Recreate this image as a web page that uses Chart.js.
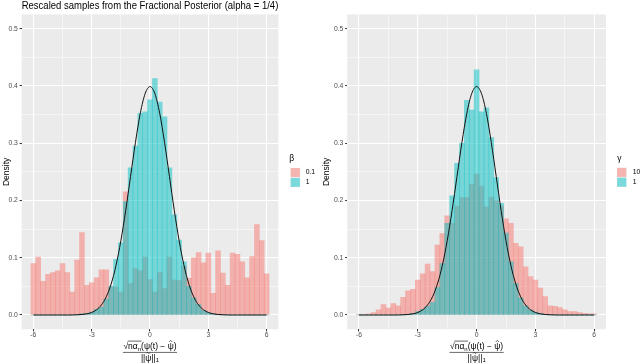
<!DOCTYPE html>
<html><head><meta charset="utf-8">
<script src="https://cdn.jsdelivr.net/npm/chart.js@4.4.0/dist/chart.umd.min.js"></script>
<style>
html,body{margin:0;padding:0;background:#fff;overflow:hidden}
#wrap{position:relative;width:640px;height:363px}
canvas{position:absolute;top:0}
#c1{left:0}#c2{left:320px}
</style></head>
<body><div id="wrap"><canvas id="c1" width="320" height="363"></canvas><canvas id="c2" width="320" height="363"></canvas></div>
<script>
// ---- data ----
const binCenters = [-6,-5.75,-5.5,-5.25,-5,-4.75,-4.5,-4.25,-4,-3.75,-3.5,-3.25,-3,-2.75,-2.5,-2.25,-2,-1.75,-1.5,-1.25,-1,-0.75,-0.5,-0.25,0,0.25,0.5,0.75,1,1.25,1.5,1.75,2,2.25,2.5,2.75,3,3.25,3.5,3.75,4,4.25,4.5,4.75,5,5.25,5.5,5.75,6];
// left panel, beta = 0.1
const betaPoint1 = [0.090,0.101,0.059,0.071,0.074,0.077,0.090,0.074,0.040,0.096,0.144,0.052,0.056,0.065,0.079,0.079,
  0.049,0.049,0.040,0.215,0.055,0.081,0.077,0.101,0.062,0.040,0.074,0.046,0.101,0.061,0.060,0.085,
  0.064,0.100,0.109,0.091,0.108,0.038,0.112,0.073,0.052,0.108,0.106,0.093,0.065,0.102,0.158,0.130,0.072];
// left panel, beta = 1
const betaOne = [0,0,0,0,0,0,0,0,0,0,
  0.002,0.003,0.005,0.010,0.014,0.028,0.050,0.097,0.126,0.198,0.257,0.295,0.352,0.355,0.376,0.413,0.372,0.346,0.257,0.175,0.131,0.093,0.050,0.030,0.018,0.008,0.004,0.002,0.001,
  0,0,0,0,0,0,0,0,0,0];
// right panel, gamma = 10
const gammaTen = [0.001,0.001,0.002,0.004,0.009,0.018,0.012,0.020,0.016,0.031,0.042,0.045,0.061,0.072,0.089,0.076,0.122,0.142,0.173,
  0.160,0.190,0.205,0.205,0.228,0.246,0.225,0.189,0.206,0.200,0.190,
  0.168,0.160,0.125,0.119,0.084,0.067,0.061,0.047,0.032,0.016,0.015,0.013,0.009,0.006,0.006,0.004,0.003,0.002,0.002];
// right panel, gamma = 1
const gammaOne = [0,0,0,0,0,0,0,0,0,0,
  0.001,0.003,0.006,0.010,0.015,0.022,0.048,0.090,0.160,0.208,0.265,0.300,0.375,0.358,0.428,0.355,0.362,0.310,0.240,0.195,0.143,0.093,0.055,0.030,0.016,0.009,0.005,0.003,0.001,
  0,0,0,0,0,0,0,0,0,0];
// black reference curve
const normalDensity = [0,0,0,0,0,0,0,0,0.0001,0.0004,0.0009,0.0020,0.0044,0.0091,0.0175,0.0317,0.0540,0.0863,0.1295,0.1826,0.2420,0.3011,0.3521,0.3867,
  0.3989,
  0.3867,0.3521,0.3011,0.2420,0.1826,0.1295,0.0863,0.0540,0.0317,0.0175,0.0091,0.0044,0.0020,0.0009,0.0004,0.0001,0,0,0,0,0,0,0,0];
const xTickValues = [-6,-3,0,3,6];
const xTickLabels = ['-6','-3','0','3','6'];
const xMinorValues = [-4.5,-1.5,1.5,4.5];
const yTickValues = [0,0.1,0.2,0.3,0.4,0.5];
const yTickLabels = ['0.0','0.1','0.2','0.3','0.4','0.5'];
const yMinorValues = [0.05,0.15,0.25,0.35,0.45];

const FAM = '"Liberation Sans", Arial, Helvetica, sans-serif';
const PINK = 'rgba(248,118,109,0.5)';
const TEAL = 'rgba(0,191,196,0.5)';

function findIdx(arr, v){ for (let i=0;i<arr.length;i++) if (Math.abs(arr[i]-v)<1e-9) return i; return -1; }

const panelBg = {
  id:'panelBg',
  beforeDraw(chart){
    const a = chart.chartArea, c = chart.ctx;
    c.save(); c.fillStyle = '#EBEBEB'; c.fillRect(a.left, a.top, a.right-a.left, a.bottom-a.top); c.restore();
  }
};

const ggLegend = {
  id:'ggLegend',
  afterDraw(chart, args, o){
    const c = chart.ctx;
    c.save();
    c.textAlign = 'left'; c.textBaseline = 'middle';
    c.fillStyle = '#000'; c.font = '8.5px ' + FAM;
    c.fillText(o.title, o.titleX, o.titleY);
    o.items.forEach((it, i) => {
      const y = o.keyY + i*o.keyH;
      c.fillStyle = '#F2F2F2'; c.fillRect(o.keyX, y, o.keyW, o.keyH);
      c.fillStyle = it.color; c.fillRect(o.keyX+0.4, y+0.4, o.keyW-0.8, o.keyH-0.8);
      c.fillStyle = '#000'; c.font = '6.8px ' + FAM;
      c.fillText(it.label, o.labelX, y + o.keyH/2);
    });
    c.restore();
  }
};

const fracTitle = {
  id:'fracTitle',
  afterDraw(chart){
    const c = chart.ctx, a = chart.chartArea;
    const cx = (a.left + a.right)/2;
    const big = '8.5px ' + FAM, small = '6px ' + FAM;
    const yN = 349, yBar = 352.4, yD = 360.6;
    c.save();
    c.fillStyle = '#000'; c.strokeStyle = '#000';
    c.textAlign = 'left'; c.textBaseline = 'alphabetic';
    const seg = [
      {t:'\u221A', f:big, dy:0},
      {t:'n\u03B1', f:big, dy:0},
      {t:'n', f:small, dy:1.8},
      {t:'(\u03C8(t) \u2212 ', f:big, dy:0},
      {t:'\u03C8', f:big, dy:0},
      {t:')', f:big, dy:0}
    ];
    let W = 0;
    seg.forEach(p => { c.font = p.f; p.w = c.measureText(p.t).width; W += p.w; });
    let x = cx - W/2; const x0 = x;
    seg.forEach(p => { c.font = p.f; c.fillText(p.t, x, yN + p.dy); p.x = x; x += p.w; });
    c.lineWidth = 0.6;
    const rTop = yN - 7.9;
    c.beginPath(); c.moveTo(seg[0].x + seg[0].w - 0.5, rTop); c.lineTo(seg[2].x + seg[2].w + 0.4, rTop); c.stroke();
    const hx = seg[4].x + seg[4].w/2;
    c.beginPath(); c.moveTo(hx-1.6, yN-7.0); c.lineTo(hx, yN-8.6); c.lineTo(hx+1.6, yN-7.0); c.stroke();
    c.beginPath(); c.moveTo(x0-0.5, yBar); c.lineTo(x0+W+0.5, yBar); c.stroke();
    const dseg = [
      {t:'||', f:big, dy:0},
      {t:'\u03C8', f:big, dy:0},
      {t:'||', f:big, dy:0},
      {t:'1', f:small, dy:1.6}
    ];
    let DW = 0;
    dseg.forEach(p => { c.font = p.f; p.w = c.measureText(p.t).width; DW += p.w; });
    x = cx - DW/2;
    dseg.forEach(p => { c.font = p.f; c.fillText(p.t, x, yD + p.dy); p.x = x; x += p.w; });
    const tx = dseg[1].x + dseg[1].w/2, ty = yD - 7.6;
    c.beginPath(); c.moveTo(tx-1.8, ty+0.4); c.bezierCurveTo(tx-1.0, ty-1.0, tx-0.3, ty-0.3, tx, ty);
    c.bezierCurveTo(tx+0.3, ty+0.3, tx+1.0, ty+1.0, tx+1.8, ty-0.4); c.stroke();
    c.restore();
  }
};

function xyData(values){ return binCenters.map((x, i) => ({x: x, y: values[i]})); }

function makeChart(id, cfg){
  const isMajorX = v => findIdx(xTickValues, v) >= 0;
  const isMajorY = v => findIdx(yTickValues, v) >= 0;
  return new Chart(document.getElementById(id), {
    type:'bar',
    data:{ datasets:[
      {type:'line', label:'N(0,1) density', data: xyData(normalDensity), borderColor:'#111', borderWidth:1,
        pointRadius:0, fill:false, cubicInterpolationMode:'monotone', order:0},
      {label: cfg.labels[1], data: xyData(cfg.series[1]), backgroundColor: TEAL, borderWidth:0,
        barPercentage:1, categoryPercentage:1, grouped:false, order:1},
      {label: cfg.labels[0], data: xyData(cfg.series[0]), backgroundColor: PINK, borderWidth:0,
        barPercentage:1, categoryPercentage:1, grouped:false, order:2}
    ]},
    options:{
      responsive:false, animation:false, devicePixelRatio:1,
      layout:{ padding:{ top: cfg.padTop, right: cfg.padRight, left:0, bottom:0 } },
      plugins:{
        legend:{display:false}, tooltip:{enabled:false},
        title: cfg.title ? { display:true, text: cfg.title, align:'start', fullSize:false, color:'#000',
          font:{family:FAM, size:10.2, weight:'normal'}, padding:{top:0, bottom:2.16} } : {display:false},
        ggLegend: cfg.legend
      },
      scales:{
        x:{
          type:'linear', min:-6.6, max:6.6, offset:false,
          afterBuildTicks(s){ s.ticks = xTickValues.concat(xMinorValues).sort((a,b)=>a-b).map(v=>({value:v})); },
          afterFit(s){ s.height = 33.7; },
          ticks:{ autoSkip:false, maxRotation:0, padding:0, color:'#4D4D4D', font:{family:FAM, size:6.8},
            callback(v){ const i = findIdx(xTickValues, v); return i >= 0 ? xTickLabels[i] : ''; } },
          grid:{ offset:false, color:'#FFFFFF', lineWidth: c => isMajorX(c.tick.value) ? 1.07 : 0.53,
            tickLength:2.1, tickWidth:1, tickColor: c => isMajorX(c.tick.value) ? '#333333' : 'rgba(0,0,0,0)' },
          border:{display:false}
        },
        y:{
          type:'linear', min:-0.025, max:0.525,
          afterBuildTicks(s){ s.ticks = yTickValues.concat(yMinorValues).sort((a,b)=>a-b).map(v=>({value:v})); },
          afterFit(s){ s.width = cfg.yWidth; },
          ticks:{ autoSkip:false, padding:1.7, color:'#4D4D4D', font:{family:FAM, size:6.8},
            callback(v){ const i = findIdx(yTickValues, v); return i >= 0 ? yTickLabels[i] : ''; } },
          grid:{ color:'#FFFFFF', lineWidth: c => isMajorY(c.tick.value) ? 1.07 : 0.53,
            tickLength:2.1, tickWidth:1, tickColor: c => isMajorY(c.tick.value) ? '#333333' : 'rgba(0,0,0,0)' },
          border:{display:false},
          title:{ display:true, text:'Density', color:'#000', font:{family:FAM, size:8.5}, padding:{top:1.6, bottom:0} }
        }
      }
    },
    plugins:[panelBg, ggLegend, fracTitle]
  });
}

makeChart('c1', {
  title:'Rescaled samples from the Fractional Posterior (alpha = 1/4)',
  labels:['0.1','1'], series:[betaPoint1, betaOne],
  padTop:0, padRight:41.7, yWidth:21.7,
  legend:{ title:'\u03B2', titleX:289.3, titleY:158.6, keyX:290.3, keyY:167.7, keyW:10, keyH:9.8, labelX:305.7,
    items:[{label:'0.1', color:PINK},{label:'1', color:TEAL}] }
});
makeChart('c2', {
  title:null,
  labels:['10','1'], series:[gammaTen, gammaOne],
  padTop:14.4, padRight:34, yWidth:27.2,
  legend:{ title:'\u03B3', titleX:297.3, titleY:158.6, keyX:296.7, keyY:167.5, keyW:10, keyH:9.8, labelX:312.7,
    items:[{label:'10', color:PINK},{label:'1', color:TEAL}] }
});
</script></body></html>
